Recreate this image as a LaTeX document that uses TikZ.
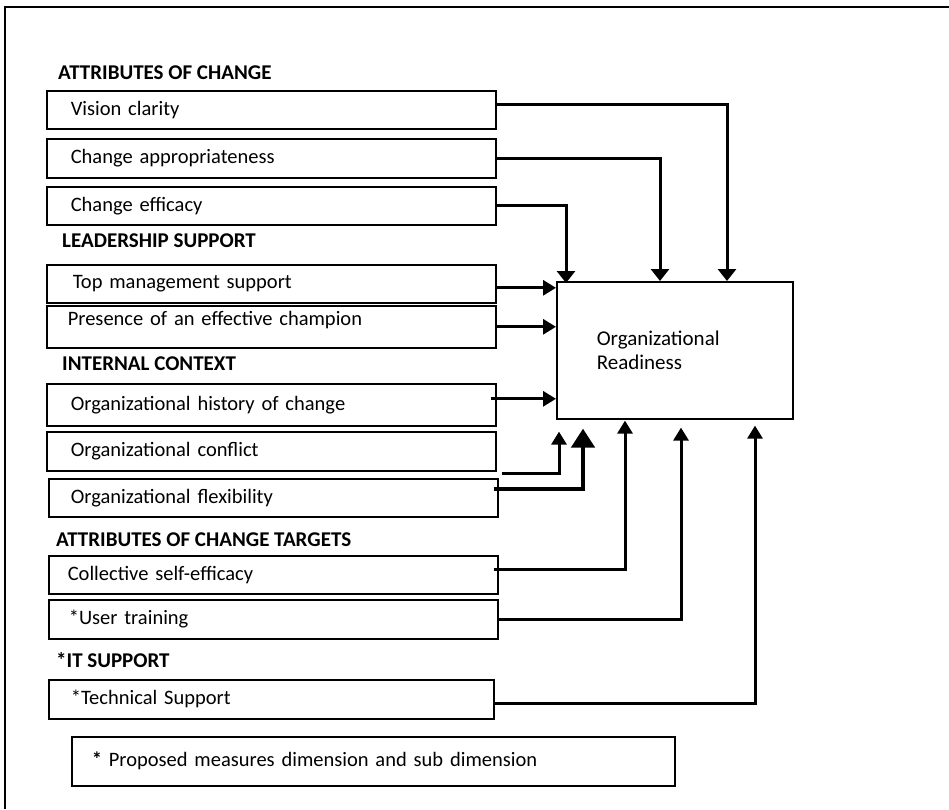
\documentclass[tikz,border=0pt]{standalone}
\usepackage{fontspec}
\setmainfont{Carlito}
\usetikzlibrary{arrows.meta}
\tikzset{
  box/.style={draw, line width=1.6pt, anchor=north west, minimum width=449pt, inner xsep=24pt, text width=401pt, align=left, font=\fontsize{20.5}{24}\selectfont},
  hdr/.style={anchor=west, inner sep=0pt, font=\fontsize{21}{25}\selectfont\bfseries},
  conn/.style={line width=3pt, -{Triangle[length=13pt,width=15pt]}},
  conndown/.style={line width=3pt, -{Triangle[length=12pt,width=18pt]}},
  connbig/.style={line width=4.5pt, -{Triangle[length=19pt,width=23pt]}},
}
\begin{document}
\begin{tikzpicture}[x=1pt,y=-1pt]
\useasboundingbox (0,0) rectangle (949,809);
\draw[line width=2pt] (5,809) -- (5,7) -- (949,7);

\node[hdr] (h1) at (58,73) {ATTRIBUTES OF CHANGE};
\node[box, minimum height=38pt] (vis) at (46,90) {Vision clarity};
\node[box, minimum height=39pt] (app) at (46,138) {Change appropriateness};
\node[box, minimum height=38pt] (eff) at (46,186) {Change efficacy};
\node[hdr] (h2) at (62,241) {LEADERSHIP SUPPORT};
\node[box, minimum height=38pt, inner xsep=26pt, text width=397pt] (top) at (46,264) {Top management support};
\node[box, minimum height=42pt, inner xsep=21pt, text width=407pt, text depth=16pt] (pre) at (46,305) {Presence of an effective champion};
\node[hdr] (h3) at (62,364) {INTERNAL CONTEXT};
\node[box, minimum height=42pt] (hist) at (46,383) {Organizational history of change};
\node[box, minimum height=39pt] (con) at (46,431) {Organizational conflict};
\node[box, minimum height=38pt, inner xsep=22pt, text width=405pt] (flex) at (48,478) {Organizational flexibility};
\node[hdr] (h4) at (56,540) {ATTRIBUTES OF CHANGE TARGETS};
\node[box, minimum height=38pt, inner xsep=19pt, text width=411pt] (coll) at (48,555) {Collective self-efficacy};
\node[box, minimum height=39pt, inner xsep=20pt, text width=409pt] (user) at (48,599) {*User training};
\node[hdr] (h5) at (56,660) {*IT SUPPORT};
\node[box, minimum width=445pt, minimum height=39pt, inner xsep=22pt, text width=401pt] (tech) at (48,679) {*Technical Support};
\node[box, minimum width=603pt, minimum height=49pt, inner xsep=20pt, text width=563pt] (note) at (71,736) {\textbf{*} Proposed measures dimension and sub dimension};

\node[draw, line width=1.6pt, anchor=north west, minimum width=236pt, minimum height=137pt, inner xsep=40pt, text width=156pt, align=left, font=\fontsize{21}{24}\selectfont] (or) at (556,281) {Organizational\\Readiness};

\coordinate (tops) at ([yshift=-4pt]top.east);
\coordinate (hs) at ([xshift=-6pt,yshift=6pt]hist.east);

\draw[conndown] ([yshift=5pt]vis.east) -| ([xshift=171pt]or.north west);
\draw[conndown] (app.east) -| ([xshift=104pt]or.north west);
\draw[conndown] (eff.east) -| ([xshift=10pt,yshift=-2pt]or.north west);
\draw[conn] (tops) -- (tops -| or.west);
\draw[conn] (pre.east) -- (pre.east -| or.west);
\draw[conn] (hs) -- (hs -| or.west);
\draw[conn] ([xshift=5pt,yshift=-2pt]con.south east) -| ([xshift=3pt,yshift=-12pt]or.south west);
\draw[connbig] ([xshift=-5pt,yshift=9pt]flex.east) -| ([xshift=27pt,yshift=-9pt]or.south west);
\draw[conn] ([xshift=-5pt,yshift=5pt]coll.east) -| ([xshift=69pt,yshift=-1pt]or.south west);
\draw[conn] (user.east) -| ([xshift=125pt,yshift=-8pt]or.south west);
\draw[conn] ([yshift=-4pt]tech.east) -| ([xshift=199pt,yshift=-6pt]or.south west);
\end{tikzpicture}
\end{document}
